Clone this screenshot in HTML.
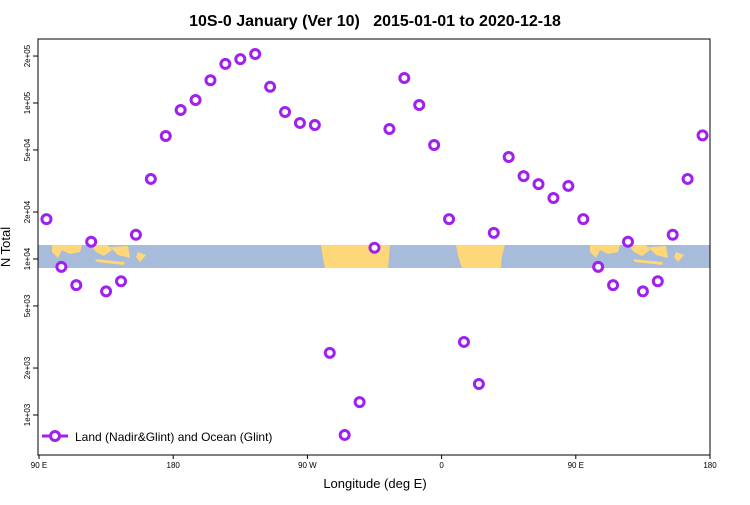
<!DOCTYPE html>
<html><head><meta charset="utf-8"><style>
body{margin:0;background:#fff;font-family:"Liberation Sans",sans-serif}
</style></head><body>
<svg width="750" height="500" xmlns="http://www.w3.org/2000/svg">
<text x="375" y="26" text-anchor="middle" font-size="16" font-weight="bold" style="white-space:pre" xml:space="preserve">10S-0 January (Ver 10)   2015-01-01 to 2020-12-18</text>
<g id="band">
<rect x="38" y="245" width="672" height="23" fill="#a7bbda"/>
<g fill="#fdd778">
<path d="M52 245 L82 245 L80 252 L70 254 L62 250 L58 258 L52 252Z"/>
<path d="M90 245 L108 245 L112 250 L104 256 L96 252Z"/>
<path d="M95 259 L125 262 L124 265 L97 262Z"/>
<path d="M110 247 L128 246 L130 258 L118 255Z"/>
<path d="M138 252 L146 255 L140 262 L136 257Z"/>
<path d="M321 245 L390 245 L388 268 L325 268 L323 258Z"/>
<path d="M456 245 L505 245 L502 256 L501 268 L462 268 L458 256Z"/>
<path d="M590 245 L620 245 L618 252 L608 254 L600 250 L596 258 L590 252Z"/>
<path d="M628 245 L646 245 L650 250 L642 256 L634 252Z"/>
<path d="M633 259 L663 262 L662 265 L635 262Z"/>
<path d="M648 247 L666 246 L668 258 L656 255Z"/>
<path d="M676 252 L684 255 L678 262 L674 257Z"/>
</g></g>
<rect x="38" y="39" width="672" height="416" fill="none" stroke="#000"/>
<g id="yaxis"></g>
<g id="xaxis"></g>
<text x="375" y="488" text-anchor="middle" font-size="13">Longitude (deg E)</text>
<text transform="translate(10,247) rotate(-90)" text-anchor="middle" font-size="13">N Total</text>
<g id="pts"></g>
<g>
<line x1="42" y1="436" x2="68" y2="436" stroke="#a020f0" stroke-width="3"/>
<circle cx="55" cy="436" r="4.5" fill="#fff" stroke="#a020f0" stroke-width="3"/>
<text x="75" y="441" font-size="12">Land (Nadir&amp;Glint) and Ocean (Glint)</text>
</g>
</svg>
<script>
const lons=[95,105,115,125,135,145,155,165,175,185,195,205,215,225,235,245,255,265,275,285,295,305,315,325,335,345,355,365,375,385,395,405,415,425,435,445,455,465,475,485,495,505,515,525,535];
const counts=[18000,8900,6800,12900,6200,7200,14300,32600,61400,90200,104500,140000,178000,191000,206000,127000,87500,74500,72300,2500,745,1210,11800,68100,144500,97100,53800,18000,2940,1580,14700,45100,34000,30200,24600,29400,18000,8900,6800,12900,6200,7200,14300,32600,62000];
const xTicks=[90,180,270,360,450,540];
const xTickLabels=["90 E","180","90 W","0","90 E","180"];
const yTicks=[1000,2000,5000,10000,20000,50000,100000,200000];
const yTickLabels=["1e+03","2e+03","5e+03","1e+04","2e+04","5e+04","1e+05","2e+05"];
const NS="http://www.w3.org/2000/svg";
const X=v=>39+(v-90)/450*671;
const Y=v=>415-(Math.log10(v)-3)*156;
function mk(t,a,p){const e=document.createElementNS(NS,t);for(const k in a)e.setAttribute(k,a[k]);p.appendChild(e);return e;}
const ya=document.getElementById('yaxis');
yTicks.forEach((t,i)=>{const y=Y(t);
const l=mk('line',{x1:33,x2:38,y1:y,y2:y,stroke:'#000'},ya);


const tx=mk('text',{transform:`translate(30,${y}) rotate(-90)`,'text-anchor':'middle','font-size':'8'},ya);
tx.textContent=yTickLabels[i];

});
const xa=document.getElementById('xaxis');
xTicks.forEach((t,i)=>{const x=X(t);
const l=mk('line',{x1:x,x2:x,y1:455,y2:459,stroke:'#000'},xa);


const tx=mk('text',{x:x,y:468,'text-anchor':'middle','font-size':'8'},xa);
tx.textContent=xTickLabels[i];

});
const pg=document.getElementById('pts');
lons.forEach((lo,i)=>{const c=mk('circle',{cx:X(lo),cy:Y(counts[i]),r:4.5,fill:'#fff',stroke:'#a020f0','stroke-width':3},pg);

});
</script>
</body></html>
